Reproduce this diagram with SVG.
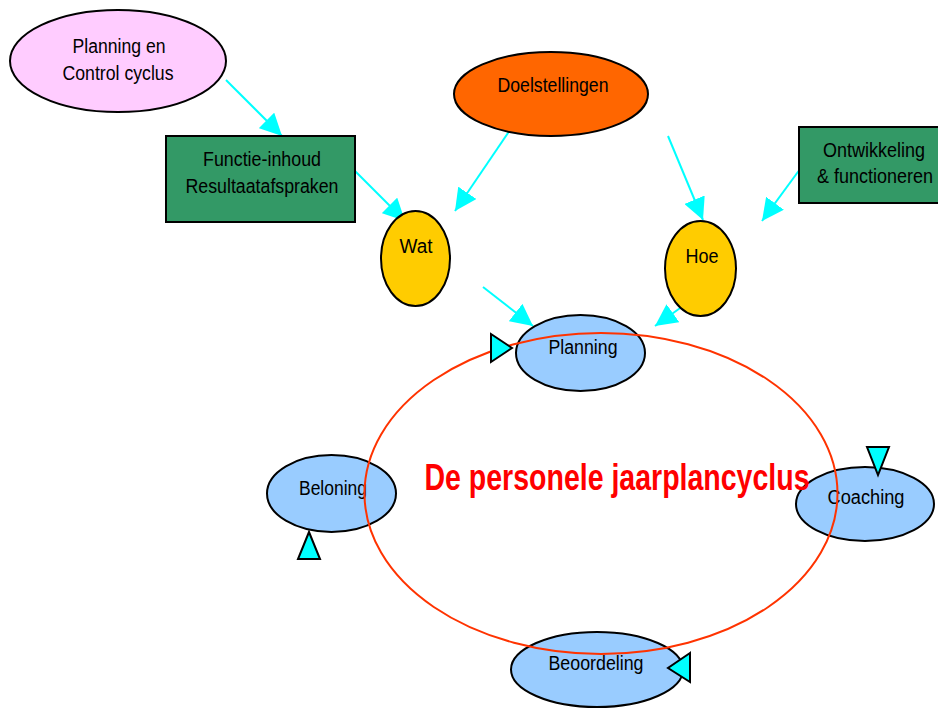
<svg xmlns="http://www.w3.org/2000/svg" width="938" height="708" viewBox="0 0 938 708">
<style>
.n{stroke:#000;stroke-width:2}
.t{font-family:"Liberation Sans",Arial,sans-serif;font-size:20px;fill:#000;text-anchor:middle}
.c{stroke:#00FFFF;stroke-width:2;fill:none;marker-end:url(#ah)}
.tri{fill:#00FFFF;stroke:#000;stroke-width:2;stroke-linejoin:miter}
.blue{fill:#99CCFF}
</style>
<defs>
<marker id="ah" viewBox="0 0 22 22" refX="22" refY="11" markerWidth="22" markerHeight="22" markerUnits="userSpaceOnUse" orient="auto">
<path d="M0,0 L22,11 L0,22 z" fill="#00FFFF"/>
</marker>
</defs>
<rect width="938" height="708" fill="#fff"/>
<g id="connectors">
<path class="c" d="M226,80 L282,136"/>
<path class="c" d="M348,164 L405,221"/>
<path class="c" d="M512,127 L455,211"/>
<path class="c" d="M668,136 L703,220"/>
<path class="c" d="M803,165 L762,221"/>
<path class="c" d="M483,287 L533,326"/>
<path class="c" d="M683,306 L655,326"/>
</g>
<g id="planning-control">
<ellipse class="n" cx="118" cy="61" rx="108" ry="51" fill="#FFCCFF"/>
<text class="t" x="119" y="53" textLength="93" lengthAdjust="spacingAndGlyphs">Planning en</text>
<text class="t" x="118" y="80" textLength="111" lengthAdjust="spacingAndGlyphs">Control cyclus</text>
</g>
<g id="functie">
<rect class="n" x="166" y="136" width="189" height="86" fill="#339966"/>
<text class="t" x="262" y="166" textLength="118" lengthAdjust="spacingAndGlyphs">Functie-inhoud</text>
<text class="t" x="262" y="193" textLength="153" lengthAdjust="spacingAndGlyphs">Resultaatafspraken</text>
</g>
<g id="doelstellingen">
<ellipse class="n" cx="551" cy="94" rx="97" ry="42" fill="#FF6600"/>
<text class="t" x="553" y="92" textLength="111" lengthAdjust="spacingAndGlyphs">Doelstellingen</text>
</g>
<g id="ontwikkeling">
<rect class="n" x="799" y="127" width="150" height="76" fill="#339966"/>
<text class="t" x="874" y="157" textLength="102" lengthAdjust="spacingAndGlyphs">Ontwikkeling</text>
<text class="t" x="875" y="183" textLength="116" lengthAdjust="spacingAndGlyphs">&amp; functioneren</text>
</g>
<g id="wat">
<ellipse class="n" cx="415.5" cy="258.5" rx="34.5" ry="47.5" fill="#FFCC00"/>
<text class="t" x="416" y="253" textLength="33" lengthAdjust="spacingAndGlyphs">Wat</text>
</g>
<g id="hoe">
<ellipse class="n" cx="700.5" cy="268.5" rx="35.5" ry="47.5" fill="#FFCC00"/>
<text class="t" x="702" y="263" textLength="33" lengthAdjust="spacingAndGlyphs">Hoe</text>
</g>
<g id="planning">
<ellipse class="n blue" cx="580.5" cy="353" rx="64.5" ry="38"/>
<text class="t" x="583" y="354" textLength="69" lengthAdjust="spacingAndGlyphs">Planning</text>
</g>
<g id="coaching">
<ellipse class="n blue" cx="865" cy="504" rx="69" ry="37"/>
<text class="t" x="866" y="504" textLength="77" lengthAdjust="spacingAndGlyphs">Coaching</text>
</g>
<g id="beloning">
<ellipse class="n blue" cx="331.5" cy="493.5" rx="64.5" ry="38.5"/>
<text class="t" x="333" y="495" textLength="68" lengthAdjust="spacingAndGlyphs">Beloning</text>
</g>
<g id="beoordeling">
<ellipse class="n blue" cx="597" cy="669.5" rx="86" ry="37.5"/>
<text class="t" x="596" y="670" textLength="95" lengthAdjust="spacingAndGlyphs">Beoordeling</text>
</g>
<g id="cycle">
<ellipse cx="601" cy="493.5" rx="236.5" ry="160.5" fill="none" stroke="#FF3300" stroke-width="2"/>
<polygon class="tri" points="491,334 512,348 491,362"/>
<polygon class="tri" points="867,447 889,447 878,475"/>
<polygon class="tri" points="298,559 320,559 309,532"/>
<polygon class="tri" points="690,653 668,668 690,682"/>
</g>
<g id="title">
<text x="617" y="490" font-family="'Liberation Sans',Arial,sans-serif" font-size="36" font-weight="bold" fill="#FF0000" text-anchor="middle" textLength="385" lengthAdjust="spacingAndGlyphs">De personele jaarplancyclus</text>
</g>
</svg>
